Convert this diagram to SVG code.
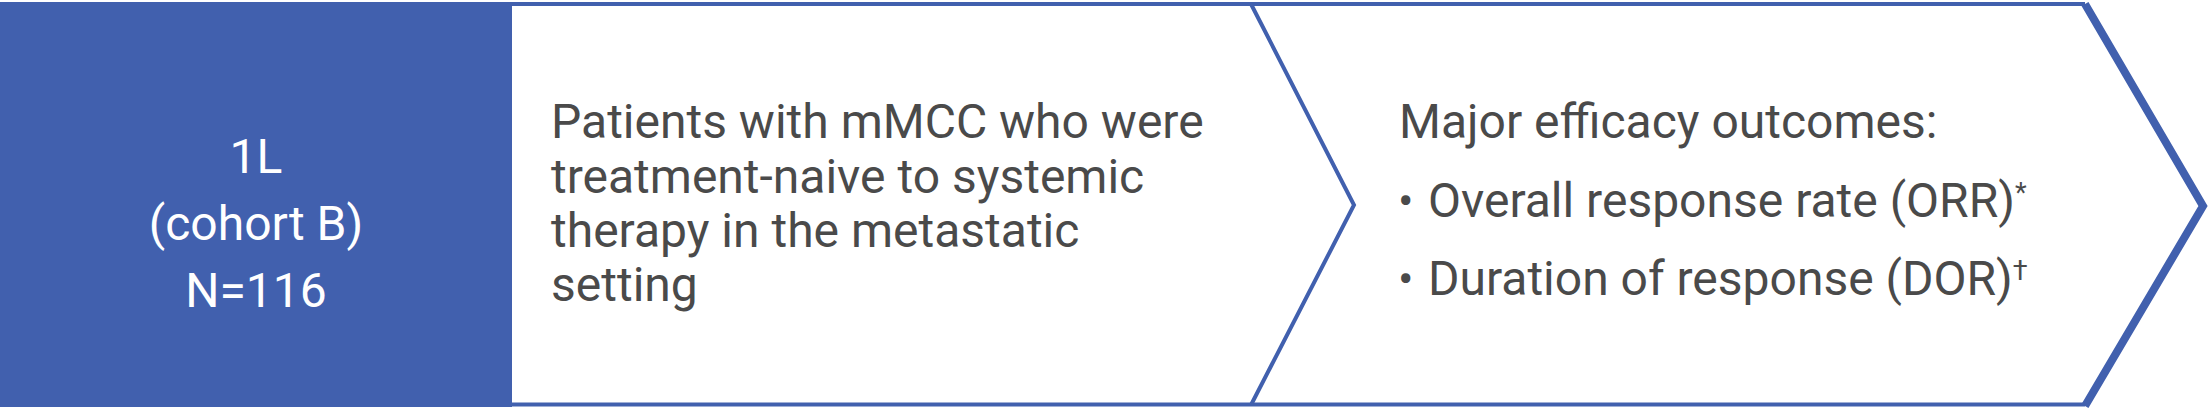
<svg xmlns="http://www.w3.org/2000/svg" width="2212" height="410" viewBox="0 0 2212 410">
<style>
.t{font-family:Roboto,"Liberation Sans",sans-serif;font-size:48px;fill:#4a4a4a}
.w{fill:#ffffff}
.ln{fill:none;stroke:#4160AE;stroke-linejoin:miter}
.sup{font-size:27px}
.b{font-size:46px}
</style>
<rect x="0" y="0" width="2212" height="410" fill="#ffffff"/>
<g id="connectors">
<path class="ln" d="M512 4 H2085" stroke-width="4"/>
<path class="ln" d="M512 404.5 H2085" stroke-width="4"/>
<path class="ln" d="M1251 4 L1354 205 L1251 405" stroke-width="4"/>
<path class="ln" d="M2085 4 L2203 206 L2085 406" stroke-width="8"/>
</g>
<g id="cohort">
<rect x="0" y="2" width="512" height="405" fill="#4160AE"/>
<text class="t w" text-anchor="middle"><tspan x="256" y="173">1L</tspan><tspan x="256" y="240">(cohort B)</tspan><tspan x="256" y="307">N=116</tspan></text>
</g>
<g id="patients">
<text class="t"><tspan x="551" y="138">Patients with mMCC who were</tspan><tspan x="551" y="192.5">treatment-naive to systemic</tspan><tspan x="551" y="247">therapy in the metastatic</tspan><tspan x="551" y="301">setting</tspan></text>
</g>
<g id="outcomes">
<text class="t" x="1399" y="138">Major efficacy outcomes:</text>
<text class="t" y="217"><tspan class="b" x="1398">•</tspan><tspan x="1428">Overall response rate (ORR)</tspan><tspan class="sup" dy="-15">*</tspan></text>
<text class="t" y="295"><tspan class="b" x="1398">•</tspan><tspan x="1428">Duration of response (DOR)</tspan><tspan class="sup" dy="-15">†</tspan></text>
</g>
</svg>
